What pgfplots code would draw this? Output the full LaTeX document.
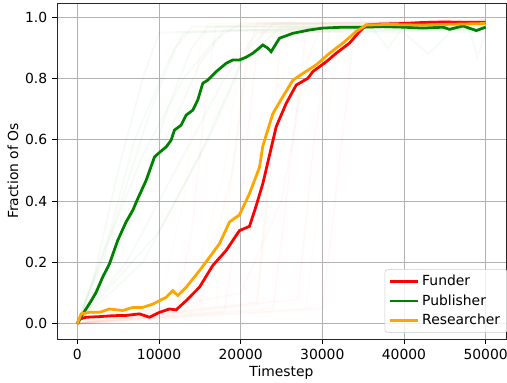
\documentclass[border=0pt]{standalone}
\usepackage{fontspec}
\setmainfont{DejaVu Sans}
\usepackage{pgfplots}
\pgfplotsset{compat=1.18}
\definecolor{mred}{HTML}{FF0000}
\definecolor{mgreen}{HTML}{008000}
\definecolor{morange}{HTML}{FFA500}
\begin{document}
\begin{tikzpicture}[font=\fontsize{10pt}{12pt}\selectfont]
\begin{axis}[
  scale only axis,
  width=323.3pt, height=241.9pt,
  xmin=-2500, xmax=52500, ymin=-0.0499, ymax=1.047,
  xtick={0,10000,20000,30000,40000,50000},
  ytick={0,0.2,0.4,0.6,0.8,1.0},
  scaled x ticks=false,
  /pgf/number format/assume math mode=true,
  xticklabel style={/pgf/number format/1000 sep={}},
  yticklabel style={/pgf/number format/fixed,/pgf/number format/precision=1,/pgf/number format/fixed zerofill},
  tick align=outside, major tick length=3.5pt,
  tick style={black, line width=0.6pt},
  xtick pos=bottom, ytick pos=left,
  grid=major, grid style={color=black!30, line width=0.6pt},
  axis line style={line width=0.6pt, black!85},
  xlabel={Timestep}, ylabel={Fraction of Os},
  xlabel style={yshift=2pt}, ylabel style={yshift=-2pt},
  legend cell align=left,
  legend style={at={(1,0)}, anchor=south east, xshift=1pt, yshift=4.5pt,
    draw=black!20, rounded corners=2pt, fill=white, fill opacity=0.8, text opacity=1,
    font=\fontsize{10pt}{12pt}\selectfont, row sep=1pt, inner xsep=3pt, inner ysep=2pt},
  legend image code/.code={\draw[#1, line width=2pt] (0cm,0cm) -- (0.7cm,0cm);},
  faintg/.style={forget plot, mgreen, opacity=0.03, line width=1.5pt},
  faintr/.style={forget plot, mred, opacity=0.025, line width=1.5pt},
  fainto/.style={forget plot, morange, opacity=0.025, line width=1.5pt},
]
% faint individual runs
\addplot[faintg] coordinates {(0,0)(3000,0.2)(6000,0.45)(9000,0.7)(12000,0.9)(14000,0.97)(30000,0.97)(50000,0.96)};
\addplot[faintg] coordinates {(0,0)(5000,0.25)(10000,0.55)(15000,0.85)(18000,0.96)(40000,0.95)(43000,0.88)(46000,0.96)(50000,0.96)};
\addplot[faintg] coordinates {(0,0)(2000,0.15)(5000,0.5)(8000,0.8)(10000,0.95)(50000,0.98)};
\addplot[faintg] coordinates {(0,0)(6000,0.2)(12000,0.5)(18000,0.8)(22000,0.95)(48000,0.96)(49000,0.87)(50000,0.95)};
\addplot[faintg] coordinates {(0,0)(8000,0.2)(15000,0.55)(20000,0.85)(25000,0.97)(50000,0.95)};
\addplot[faintg] coordinates {(0,0)(4000,0.3)(7000,0.6)(11000,0.85)(13000,0.95)(36000,0.97)(38000,0.9)(40000,0.97)(50000,0.97)};
\addplot[faintg] coordinates {(0,0)(10000,0.3)(16000,0.6)(21000,0.9)(24000,0.98)(50000,0.97)};
\addplot[faintg] coordinates {(0,0)(3500,0.25)(8000,0.55)(13000,0.8)(17000,0.93)(20000,0.98)(50000,0.98)};
\addplot[faintg] coordinates {(0,0)(7000,0.35)(11000,0.7)(14000,0.9)(16000,0.97)(50000,0.97)};
\addplot[faintr] coordinates {(0,0)(12000,0.03)(14000,0.3)(16000,0.8)(17000,0.97)(50000,0.99)};
\addplot[faintr] coordinates {(0,0)(18000,0.04)(20000,0.4)(22000,0.9)(23000,0.98)(50000,0.99)};
\addplot[faintr] coordinates {(0,0)(24000,0.05)(26000,0.5)(28000,0.95)(50000,0.99)};
\addplot[faintr] coordinates {(0,0)(30000,0.05)(32000,0.5)(34000,0.97)(50000,0.99)};
\addplot[faintr] coordinates {(0,0)(20000,0.1)(25000,0.4)(28000,0.85)(30000,0.98)(50000,0.99)};
\addplot[faintr] coordinates {(0,0)(15000,0.06)(19000,0.5)(21000,0.9)(22000,0.98)(50000,0.99)};
\addplot[faintr] coordinates {(0,0)(27000,0.08)(29000,0.6)(31000,0.97)(50000,0.99)};
\addplot[faintr] coordinates {(0,0)(22000,0.07)(23500,0.5)(25000,0.96)(50000,0.99)};
\addplot[fainto] coordinates {(0,0)(10000,0.05)(13000,0.4)(15000,0.9)(16000,0.98)(50000,0.98)};
\addplot[fainto] coordinates {(0,0)(17000,0.06)(19000,0.5)(21000,0.95)(50000,0.98)};
\addplot[fainto] coordinates {(0,0)(22000,0.06)(24000,0.6)(26000,0.97)(50000,0.98)};
\addplot[fainto] coordinates {(0,0)(28000,0.05)(30000,0.5)(32000,0.96)(50000,0.98)};
\addplot[fainto] coordinates {(0,0)(14000,0.1)(18000,0.5)(20000,0.9)(21000,0.98)(50000,0.98)};
% mean curves
\addplot[mred, line width=2pt] coordinates {(0,0)(250,0.015)(1060,0.021)(2700,0.023)(4330,0.026)(6000,0.027)(7600,0.032)(8820,0.021)(10050,0.037)(11270,0.048)(12090,0.045)(13320,0.075)(14950,0.119)(16580,0.190)(18220,0.239)(19850,0.304)(20670,0.313)(21080,0.318)(21900,0.385)(22710,0.457)(23530,0.550)(24350,0.643)(25570,0.719)(26800,0.779)(28220,0.801)(28840,0.823)(30470,0.855)(31700,0.883)(33330,0.916)(34560,0.954)(35380,0.975)(37000,0.978)(40000,0.980)(42000,0.983)(45000,0.985)(48000,0.983)(50000,0.983)};
\addlegendentry{Funder}
\addplot[mgreen, line width=2pt] coordinates {(0,0)(500,0.025)(1060,0.048)(1700,0.075)(2290,0.102)(3100,0.152)(3920,0.195)(4940,0.272)(5960,0.332)(6780,0.370)(7390,0.408)(8420,0.468)(9440,0.544)(9960,0.557)(10870,0.577)(11480,0.599)(11890,0.632)(12700,0.648)(13320,0.681)(14130,0.697)(14740,0.730)(15360,0.785)(15970,0.795)(17000,0.823)(18220,0.850)(19030,0.861)(19850,0.861)(20670,0.870)(21490,0.883)(22100,0.896)(22710,0.910)(23300,0.900)(23730,0.888)(24750,0.932)(26390,0.948)(28430,0.959)(30060,0.965)(32520,0.968)(34960,0.968)(37420,0.970)(40000,0.968)(42320,0.965)(44770,0.968)(45590,0.961)(47220,0.972)(48860,0.957)(50000,0.968)};
\addlegendentry{Publisher}
\addplot[morange, line width=2pt] coordinates {(0,0)(450,0.032)(1470,0.037)(2700,0.037)(3920,0.048)(5550,0.043)(6780,0.053)(7990,0.053)(9230,0.064)(10050,0.075)(10870,0.086)(11680,0.108)(12290,0.092)(13320,0.119)(14950,0.173)(16180,0.217)(17400,0.261)(18630,0.332)(19300,0.345)(19850,0.355)(21080,0.425)(22300,0.510)(22710,0.580)(23940,0.686)(25160,0.741)(26390,0.795)(27610,0.817)(29250,0.845)(30880,0.883)(32520,0.916)(34150,0.954)(35380,0.975)(38000,0.977)(42000,0.975)(45000,0.977)(50000,0.980)};
\addlegendentry{Researcher}
\end{axis}
\pgfresetboundingbox
\path[use as bounding box] ([xshift=-41.04pt,yshift=-31.68pt]current axis.south west) rectangle ([xshift=0.72pt,yshift=2.16pt]current axis.north east);
\end{tikzpicture}
\end{document}
